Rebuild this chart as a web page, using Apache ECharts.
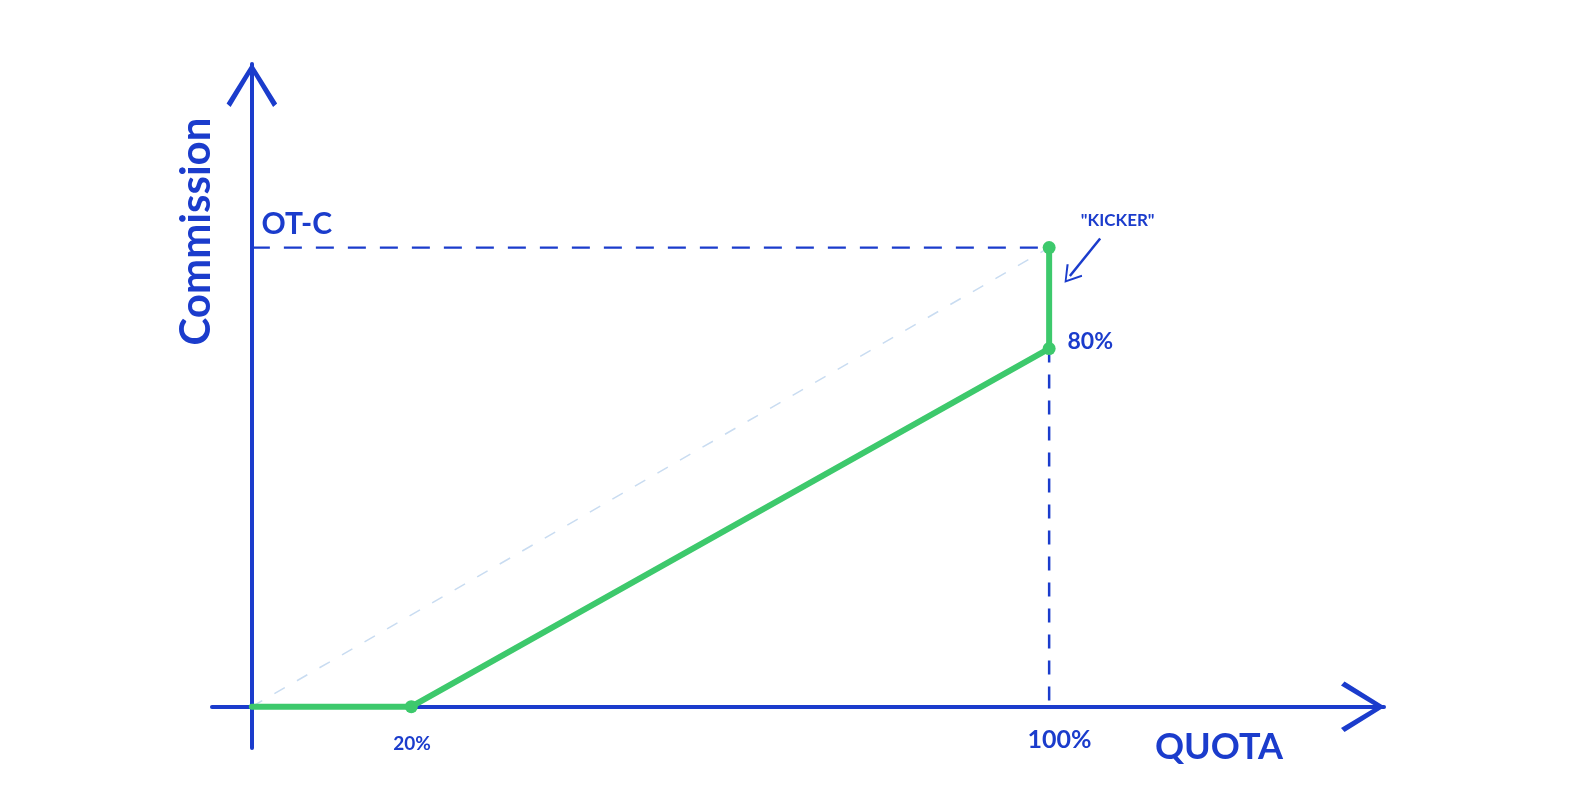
<!DOCTYPE html>
<html>
<head>
<meta charset="utf-8">
<script src="https://cdn.jsdelivr.net/npm/echarts@6.0.0/dist/echarts.min.js"></script>
<style>
  html, body { margin: 0; padding: 0; background: #ffffff; }
  #chart { width: 1582px; height: 791px; }
</style>
</head>
<body>
<div id="chart"></div>
<script>
// ---- data ----
const quotaPoints = [0, 20, 100, 100];          // % of quota
const commissionPoints = [0, 0, 78, 100];       // commission (OT-C = 100)
const otcLevelX = [0, 100];
const otcLevelY = [100, 100];
const quotaLineX = [100, 100];
const quotaLineY = [78, 0];
const referenceX = [0, 100];
const referenceY = [0, 100];
const labelTexts = {
  otc: 'OT-C', kicker: '"KICKER"', p80: '80%', p20: '20%', p100: '100%',
  xName: 'QUOTA', yName: 'Commission'
};

// ---- styles ----
const BLUE = '#1b3ccc';
const GREEN = '#3dc96c';
const LIGHT = '#c9dcf1';
const FONT = 'Lato';
const chevron = 'path://M50,0 L100,80 L92,87 L50,17 L8,87 L0,80 Z';

function zip(a, b) { return a.map((v, i) => [v, b[i]]); }

const chart = echarts.init(document.getElementById('chart'), null, { renderer: 'canvas' });

function annotation(x, y, text, size, extra) {
  return {
    value: [x, y],
    label: Object.assign({
      show: true, formatter: text, position: 'inside', opacity: 1,
      color: BLUE, fontFamily: FONT, fontSize: size, fontWeight: 'bold',
      textBorderWidth: 0, textBorderColor: 'transparent'
    }, extra || {})
  };
}

const option = {
  animation: false,
  backgroundColor: '#ffffff',
  grid: { left: 212, right: 198, top: 64, bottom: 43 },
  xAxis: {
    type: 'value', min: -5, max: 142,
    axisLine: { show: true, onZero: true, symbol: ['none', chevron], symbolSize: [52, 44], symbolOffset: [0, -21],
      lineStyle: { color: BLUE, width: 4, cap: 'round' } },
    axisTick: { show: false }, axisLabel: { show: false }, splitLine: { show: false }
  },
  yAxis: {
    type: 'value', min: -9, max: 140,
    axisLine: { show: true, onZero: true, symbol: ['none', chevron], symbolSize: [56, 44], symbolOffset: [0, -21],
      lineStyle: { color: BLUE, width: 4, cap: 'round' } },
    axisTick: { show: false }, axisLabel: { show: false }, splitLine: { show: false }
  },
  series: [
    {
      name: 'reference', type: 'line', data: zip(referenceX, referenceY), showSymbol: false, symbol: 'none',
      lineStyle: { color: LIGHT, width: 1.5, type: [12, 14] }, z: 1
    },
    {
      name: 'otc level', type: 'line', data: zip(otcLevelX, otcLevelY), symbol: 'none',
      lineStyle: { color: BLUE, width: 2.2, type: [18, 14] }, z: 1
    },
    {
      name: 'quota line', type: 'line', data: zip(quotaLineX, quotaLineY), symbol: 'none',
      lineStyle: { color: BLUE, width: 2.5, type: [14, 12] }, z: 1
    },
    {
      name: 'commission', type: 'line',
      data: zip(quotaPoints, commissionPoints).map((p, i) => i === 0 ? { value: p, symbol: 'none' } : { value: p }),
      symbol: 'circle', symbolSize: 13, showSymbol: true,
      itemStyle: { color: GREEN }, lineStyle: { color: GREEN, width: 6, cap: 'round', join: 'round' }, z: 5,
      markLine: {
        silent: true, animation: false,
        symbol: ['none', chevron], symbolSize: [20, 17],
        label: { show: false },
        lineStyle: { color: BLUE, width: 2.5, type: 'solid', curveness: 0.45 },
        data: [[{ coord: [106.4, 102] }, { coord: [102.6, 93.8] }]]
      }
    },
    {
      name: 'labels', type: 'scatter', symbolSize: 0, clip: false, silent: true, z: 6,
      itemStyle: { color: BLUE, opacity: 1 },
      data: [
        annotation(1.2, 105, labelTexts.otc, 30, { align: 'left' }),
        annotation(108.6, 105.8, labelTexts.kicker, 17),
        annotation(102.3, 79.5, labelTexts.p80, 23, { align: 'left' }),
        annotation(20.1, -8, labelTexts.p20, 19),
        annotation(101.3, -7.2, labelTexts.p100, 25),
        annotation(121.3, -8.8, labelTexts.xName, 36),
        annotation(-6.9, 103.5, labelTexts.yName, 42, { rotate: 90 })
      ]
    }
  ]
};
chart.setOption(option);
</script>
</body>
</html>
